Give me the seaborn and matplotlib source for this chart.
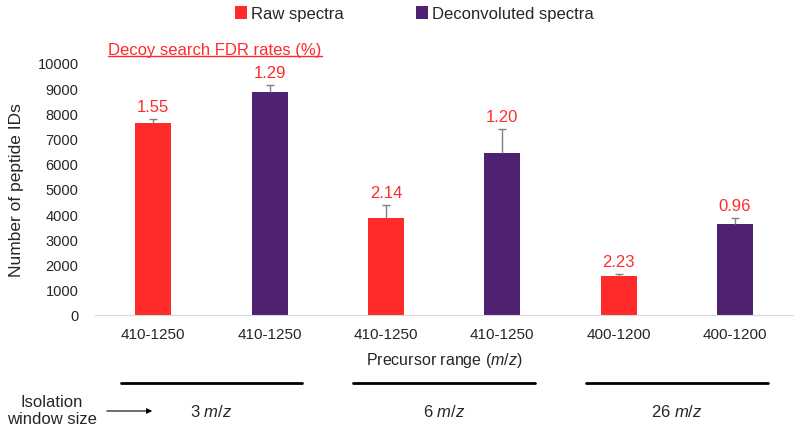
import matplotlib
matplotlib.use("Agg")
import matplotlib.pyplot as plt
import seaborn as sns
import pandas as pd

# data
ranges = ["410-1250", "410-1250", "410-1250", "410-1250", "400-1200", "400-1200"]
spectra = ["Raw spectra", "Deconvoluted spectra"] * 3
peptide_ids = [7620, 8840, 3850, 6420, 1560, 3600]
errors = [150, 290, 530, 940, 70, 260]
fdr = ["1.55", "1.29", "2.14", "1.20", "2.23", "0.96"]
windows = ["3", "6", "26"]

red = "#FF2B2B"
purple = "#4E2271"

sns.set_style("white")
plt.rcParams["font.family"] = ["Liberation Sans", "DejaVu Sans"]
plt.rcParams["mathtext.fontset"] = "custom"
plt.rcParams["mathtext.rm"] = "Liberation Sans"
plt.rcParams["mathtext.it"] = "Liberation Sans:italic"

df = pd.DataFrame({"pos": range(len(peptide_ids)), "ids": peptide_ids, "spectra": spectra})

fig = plt.figure(figsize=(8, 4.35), dpi=100)
ax = fig.add_axes([0.119, 0.2736, 0.8725, 0.5794])

sns.barplot(data=df, x="pos", y="ids", hue="spectra", palette=[red, purple],
            dodge=False, width=0.31, saturation=1, linewidth=0, ax=ax, legend=True)

# plus-only error bars like excel
eb = ax.errorbar(df["pos"], peptide_ids, yerr=[[0] * len(errors), errors], fmt="none",
                 ecolor="#808080", elinewidth=1, capsize=3, capthick=1)
eb[1][0].set_visible(False)

for i, (v, e, t) in enumerate(zip(peptide_ids, errors, fdr)):
    ax.annotate(t, (i, v + e), xytext=(0, 9), textcoords="offset points",
                ha="center", va="center", color=red, fontsize=12)

ax.set_xlim(-0.5, 5.5)
ax.set_ylim(0, 10000)
ax.set_yticks(range(0, 10001, 1000))
ax.set_xticks(range(len(ranges)))
ax.set_xticklabels(ranges)
ax.tick_params(axis="x", length=0, pad=9, labelsize=11)
ax.tick_params(axis="y", length=0, pad=12, labelsize=10.5)
ax.set_ylabel("Number of peptide IDs", fontsize=12.5, labelpad=10)
ax.set_xlabel("Precursor range ($\\it{m/z}$)", fontsize=11.5, labelpad=6)
sns.despine(ax=ax, left=True, top=True, right=True)
ax.spines["bottom"].set_color("#D9D9D9")

ax.text(0.018, 1.055, "Decoy search FDR rates (%)", transform=ax.transAxes, color=red,
        fontsize=12, ha="left", va="center", clip_on=False)
ax.plot([0.018, 0.325], [1.027, 1.027], transform=ax.transAxes, color=red, lw=1, clip_on=False)

handles, labels = ax.get_legend_handles_labels()
ax.legend(handles, labels, loc="center", bbox_to_anchor=(0.518, 0.966),
          bbox_transform=fig.transFigure, ncol=2, frameon=False, fontsize=12,
          handlelength=0.75, handleheight=0.85, handletextpad=0.25, columnspacing=4.3)

# isolation window groups under the axis
trans = ax.get_xaxis_transform()
for k, w in enumerate(windows):
    c = 2 * k + 0.5
    ax.plot([c - 0.78, c + 0.78], [-0.27, -0.27], transform=trans, color="black",
            lw=2, clip_on=False)
    ax.text(c, -0.381, w + " $\\it{m/z}$", transform=trans, ha="center", va="center",
            fontsize=12)

fig.text(52 / 800, 1 - 411 / 435, "Isolation\nwindow size", ha="center", va="center",
         fontsize=12, linespacing=1.1)
ax.annotate("", xy=(155 / 800, 1 - 412 / 435), xytext=(104 / 800, 1 - 412 / 435),
            xycoords="figure fraction", textcoords="figure fraction",
            arrowprops=dict(arrowstyle="-|>", color="black", lw=0.8, mutation_scale=8))

fig.savefig("out.png", dpi=100)
